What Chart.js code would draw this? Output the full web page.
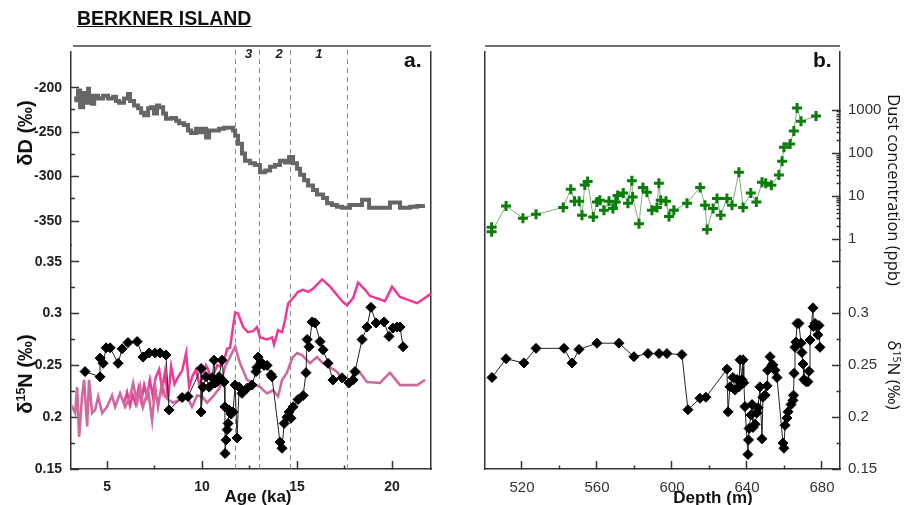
<!DOCTYPE html>
<html>
<head>
<meta charset="utf-8">
<script src="https://cdn.jsdelivr.net/npm/chart.js@4.4.1/dist/chart.umd.min.js"></script>
<style>
  html, body { margin: 0; padding: 0; background: #fff; }
  #wrap { position: relative; width: 909px; height: 505px; overflow: hidden;
          font-family: 'Liberation Sans', Arial, sans-serif; color: #111; }
  canvas { position: absolute; top: 0; }
  #ca { left: 0; }
  #cb { left: 460px; }
  .t { position: absolute; white-space: nowrap; line-height: 1; }
  .c { transform: translate(-50%, -50%); }
  .up { transform: translate(-50%, -50%) rotate(-90deg); }
  .down { transform: translate(-50%, -50%) rotate(90deg); }
  sup { font-size: 62%; vertical-align: 0.55em; line-height: 0; }
</style>
</head>
<body>
<div id="wrap">
  <canvas id="ca" width="460" height="505"></canvas>
  <canvas id="cb" width="449" height="505"></canvas>
  <div class="t" style="left:77px;top:9px;font-weight:bold;font-size:19.5px;text-decoration:underline;">BERKNER ISLAND</div>
  <div class="t" style="left:404px;top:49px;font-weight:bold;font-size:21px;">a.</div>
  <div class="t" style="left:813px;top:49px;font-weight:bold;font-size:21px;">b.</div>
  <div class="t up" style="left:25px;top:133px;font-weight:bold;font-size:20px;">δD (‰)</div>
  <div class="t up" style="left:25px;top:374px;font-weight:bold;font-size:20px;">δ<sup>15</sup>N (‰)</div>
  <div class="t c" style="left:258px;top:496px;font-weight:bold;font-size:17px;">Age (ka)</div>
  <div class="t c" style="left:713px;top:497px;font-weight:bold;font-size:17px;">Depth (m)</div>
  <div class="t down" style="left:894px;top:190px;font-family:'Open Sans';font-size:16.5px;">Dust concentration (ppb)</div>
  <div class="t down" style="left:894px;top:375px;font-family:'Open Sans';font-size:17px;">δ<sup>15</sup>N (‰)</div>
</div>
<script>
// ---- tick values ----
const ageTicks = [5, 7.5, 10, 12.5, 15, 17.5, 20];
const deltaDTicks = [-350, -325, -300, -275, -250, -225, -200];
const n15Ticks = [0.15, 0.175, 0.2, 0.225, 0.25, 0.275, 0.3, 0.325, 0.35];
const depthTicks = [520, 540, 560, 580, 600, 620, 640, 660, 680];
const dustDecades = [1, 10, 100, 1000];

// ---- climate stage boundaries (ka) ----
const stageBoundaries = [11.74, 13.0, 14.63, 17.63];
const stageNames = ['3', '2', '1'];
const stageNameAges = [12.45, 14.05, 16.15];

// ---- deltaD (per mil) vs age (ka) ----
const deltaDAge = [3.28,3.37,3.47,3.58,3.74,3.84,4.00,4.05,4.21,4.32,4.53,4.79,5.05,5.32,5.47,5.63,5.89,6.10,6.21,6.42,6.63,6.79,6.95,7.16,7.32,7.47,7.63,7.74,7.95,8.10,8.37,8.63,8.79,9.05,9.26,9.42,9.68,9.84,10.05,10.21,10.37,10.63,10.89,11.16,11.42,11.63,11.74,11.89,12.10,12.26,12.53,12.79,13.05,13.32,13.58,13.84,14.10,14.37,14.58,14.79,15.00,15.16,15.37,15.58,15.84,16.05,16.37,16.58,16.84,17.10,17.37,17.63,17.79,18.16,18.42,18.68,18.79,19.21,19.53,19.89,20.26,20.42,20.95,21.32,21.63];
const deltaDValue = [-214,-212,-203,-222,-206,-217,-201,-209,-218,-209,-212,-209,-212,-210,-215,-217,-212,-207,-215,-220,-223,-228,-231,-223,-222,-229,-220,-222,-229,-235,-234,-237,-240,-242,-248,-251,-246,-250,-246,-256,-248,-248,-246,-245,-245,-248,-254,-263,-274,-282,-285,-287,-295,-293,-289,-287,-282,-284,-278,-285,-291,-298,-304,-310,-315,-320,-324,-330,-332,-334,-335,-335,-332,-332,-326,-326,-335,-335,-335,-329,-329,-335,-334,-333,-331];

// ---- modelled d15N, upper curve ----
const modelHighAge = [5.90,6.05,6.20,6.35,6.50,6.65,6.80,6.95,7.10,7.25,7.40,7.55,7.74,7.90,8.05,8.21,8.37,8.55,8.74,8.95,9.16,9.32,9.50,9.68,9.85,10.05,10.20,10.32,10.50,10.63,10.80,10.95,11.16,11.32,11.47,11.74,11.89,12.16,12.42,12.68,12.89,13.05,13.42,13.68,13.79,14.00,14.21,14.37,14.53,14.79,15.05,15.32,15.58,15.84,16.32,16.74,17.10,17.42,17.63,17.95,18.21,18.58,18.84,19.63,20.00,20.42,21.32,22.05];
const modelHighValue = [0.214,0.224,0.211,0.221,0.213,0.228,0.215,0.231,0.220,0.236,0.221,0.238,0.246,0.226,0.244,0.217,0.249,0.232,0.239,0.245,0.262,0.229,0.240,0.246,0.232,0.238,0.250,0.246,0.236,0.243,0.250,0.249,0.255,0.266,0.267,0.301,0.300,0.287,0.282,0.283,0.287,0.277,0.275,0.277,0.270,0.284,0.282,0.294,0.310,0.315,0.321,0.323,0.321,0.324,0.333,0.326,0.318,0.311,0.308,0.315,0.330,0.323,0.317,0.312,0.326,0.316,0.310,0.319];

// ---- modelled d15N, lower curve ----
const modelLowAge = [3.11,3.32,3.42,3.53,3.68,3.79,3.95,4.05,4.21,4.37,4.53,4.74,5.00,5.26,5.42,5.68,5.95,6.21,6.37,6.58,6.74,6.89,7.16,7.37,7.53,7.68,7.89,8.05,8.21,8.47,8.84,9.21,9.47,9.74,10.00,10.26,10.58,10.95,11.21,11.47,11.74,12.00,12.37,12.68,13.05,13.42,13.74,14.00,14.21,14.47,14.74,15.00,15.26,15.42,15.68,16.05,16.37,16.74,17.10,17.63,17.95,18.32,18.68,19.37,19.89,20.42,21.32,21.74];
const modelLowValue = [0.212,0.204,0.229,0.181,0.220,0.236,0.191,0.236,0.204,0.207,0.220,0.204,0.210,0.221,0.210,0.223,0.210,0.220,0.233,0.214,0.229,0.210,0.226,0.197,0.229,0.210,0.233,0.220,0.217,0.214,0.217,0.220,0.210,0.221,0.220,0.214,0.220,0.229,0.249,0.258,0.268,0.252,0.236,0.233,0.229,0.223,0.226,0.220,0.236,0.243,0.257,0.262,0.260,0.257,0.252,0.258,0.252,0.248,0.244,0.231,0.241,0.243,0.234,0.233,0.243,0.231,0.231,0.236];

// ---- measured d15N vs age ----
const n15Age = [3.84,4.63,4.63,4.79,4.95,5.16,5.58,5.79,6.10,6.58,6.89,7.21,7.53,7.79,8.10,8.26,8.95,9.26,9.95,9.95,10.05,10.21,10.37,10.53,10.63,10.68,10.79,10.89,11.05,11.16,11.20,11.21,11.26,11.32,11.37,11.42,11.53,11.63,11.74,11.84,11.95,12.10,12.37,12.63,12.84,12.89,12.95,13.10,13.26,13.42,13.63,13.68,14.10,14.21,14.32,14.47,14.58,14.68,14.79,15.05,15.32,15.47,15.53,15.63,15.79,15.95,16.21,16.37,16.63,16.89,17.37,17.74,17.95,18.05,18.42,18.68,18.89,19.16,19.58,19.84,20.05,20.26,20.42,20.58];
const n15Value = [0.244,0.239,0.257,0.252,0.267,0.267,0.252,0.266,0.272,0.273,0.258,0.262,0.262,0.262,0.260,0.207,0.219,0.220,0.247,0.205,0.229,0.239,0.229,0.238,0.255,0.233,0.234,0.239,0.255,0.234,0.210,0.165,0.178,0.188,0.194,0.207,0.203,0.205,0.231,0.180,0.229,0.223,0.228,0.231,0.244,0.248,0.258,0.253,0.250,0.250,0.241,0.239,0.176,0.170,0.194,0.200,0.205,0.199,0.210,0.217,0.221,0.243,0.275,0.268,0.292,0.291,0.273,0.265,0.252,0.236,0.238,0.233,0.236,0.244,0.275,0.287,0.306,0.291,0.292,0.278,0.286,0.287,0.287,0.268];

// ---- dust concentration (ppb) vs depth (m) ----
const dustDepth = [503.8,503.8,511.5,520.5,527.5,542.0,546.0,548.0,550.5,552.0,553.5,555.0,558.0,560.0,561.5,563.7,566.4,568.5,570.0,571.0,574.0,576.5,578.6,579.0,582.4,584.5,586.6,589.3,592.0,593.0,594.0,596.8,598.4,601.0,608.0,615.0,617.6,618.7,621.9,624.0,626.0,629.3,632.0,635.7,637.9,642.0,645.0,648.0,650.0,653.0,657.0,658.7,659.7,663.0,665.0,666.7,668.8,676.8];
const dustPpb = [1.9,1.5,5.9,3.1,3.8,5.5,14.5,7.6,7.6,3.6,18.3,22,3.3,7.3,8.1,4.7,7.6,5.2,7.3,10.4,11.8,6.9,23,9.6,2.3,16,12.4,4.7,5.5,20,8.1,7.6,3.4,4.7,6.9,16,6.2,1.7,5.2,8.9,3.6,8.9,6.2,36,5.5,11.8,7.3,21,20,18,31,65,137,162,325,1120,550,725];

// ---- measured d15N vs depth ----
const n15Depth = [504.0,511.5,521.0,527.5,542.4,546.7,550.4,560.0,571.7,579.7,587.2,593.1,597.3,605.3,608.5,614.9,618.1,629.3,629.9,630.9,632.5,633.6,634.7,635.7,636.3,637.3,637.9,638.3,638.9,640.5,640.8,641.1,642.1,642.7,643.2,644.3,645.3,645.9,646.9,648.0,648.5,649.6,650.7,651.0,652.3,653.3,653.9,654.9,656.0,659.2,659.7,660.3,661.3,661.9,663.5,664.5,664.8,665.1,665.6,666.1,666.7,667.7,668.8,669.3,669.9,670.4,671.5,672.5,673.1,673.6,675.2,675.4,676.3,677.3,677.8,678.4,678.9];
const n15DepthValue = [0.238,0.256,0.252,0.266,0.266,0.252,0.265,0.271,0.271,0.258,0.261,0.261,0.261,0.260,0.207,0.218,0.219,0.246,0.205,0.229,0.238,0.226,0.236,0.229,0.255,0.236,0.255,0.233,0.210,0.164,0.178,0.189,0.202,0.212,0.190,0.193,0.204,0.209,0.229,0.179,0.219,0.221,0.230,0.245,0.258,0.250,0.250,0.245,0.238,0.175,0.170,0.192,0.199,0.205,0.212,0.216,0.221,0.242,0.267,0.272,0.290,0.290,0.271,0.262,0.251,0.236,0.234,0.234,0.244,0.274,0.305,0.287,0.290,0.287,0.279,0.288,0.267];

// ---- helpers ----
const pairs = (xs, ys) => xs.map((x, i) => ({ x, y: ys[i] }));
const fixedTicks = values => scale => { scale.ticks = values.map(v => ({ value: v })); };
const n15Label = v => String(Number(v.toFixed(3)));
const isMajorAge = v => v % 5 === 0;
const isMajorDD = v => v % 50 === 0;
const isMajorN15 = v => Math.round(v * 1000) % 50 === 0;
const isMajorDepth = v => v % 40 === 0;
const isMajorDust = v => dustDecades.includes(v);
const dustTicks = dustDecades.flatMap(d => d === 1000 ? [d] : [d, 2*d, 3*d, 4*d, 5*d, 6*d, 7*d, 8*d, 9*d]);

// short minor tick marks: dash pattern measured from where Chart.js starts the tick line
const minorDash = (isMajor, fromInside) => ctx => {
  const t = ctx.tick;
  if (!t || isMajor(t.value)) return [];
  return fromInside ? [0, 4, 4, 40] : [4, 40];
};

const AXIS = '#333';
const gridFor = (isMajor, fromInside) => ({
  display: true, drawOnChartArea: false, drawTicks: true, tickLength: -8,
  tickColor: AXIS, tickWidth: 1.5, tickBorderDash: minorDash(isMajor, fromInside)
});
const frameGrid = { display: true, drawOnChartArea: false, drawTicks: false };
const boldTick = { size: 14, weight: 'bold', family: 'Liberation Sans' };
const plainTick = { size: 15, weight: 'normal', family: 'Liberation Sans' };

// panel decorations: rule above the panel, stage boundaries and stage numbers
const panelDecor = {
  id: 'panelDecor',
  beforeDatasetsDraw(chart, args, opts) {
    if (!opts.boundaries) return;
    const { ctx, chartArea: a } = chart;
    const xs = chart.scales.x;
    ctx.save();
    ctx.strokeStyle = '#8c8c8c';
    ctx.lineWidth = 1;
    ctx.setLineDash([5, 4]);
    opts.boundaries.forEach(age => {
      const x = Math.round(xs.getPixelForValue(age)) + 0.5;
      ctx.beginPath(); ctx.moveTo(x, a.top - 2); ctx.lineTo(x, a.bottom); ctx.stroke();
    });
    ctx.restore();
  },
  afterDraw(chart, args, opts) {
    const { ctx, chartArea: a } = chart;
    ctx.save();
    ctx.strokeStyle = '#444';
    ctx.lineWidth = 1.5;
    ctx.beginPath();
    ctx.moveTo(a.left + (opts.ruleInset || 0), a.top - 6);
    ctx.lineTo(a.right, a.top - 6);
    ctx.stroke();
    if (opts.names) {
      ctx.fillStyle = '#222';
      ctx.font = 'italic bold 13px "Liberation Sans"';
      ctx.textAlign = 'center';
      ctx.textBaseline = 'middle';
      opts.names.forEach((n, i) => ctx.fillText(n, chart.scales.x.getPixelForValue(opts.nameAges[i]), a.top + 2));
    }
    ctx.restore();
  }
};

Chart.defaults.font.family = 'Liberation Sans';

// ---- panel a: age scale (deltaD stacked above d15N on the left) ----
new Chart(document.getElementById('ca'), {
  type: 'line',
  data: {
    datasets: [
      { data: pairs(n15Age, n15Value), yAxisID: 'yN', borderColor: '#222', borderWidth: 1,
        pointStyle: 'rectRot', pointRadius: 5, pointBackgroundColor: '#000', pointBorderColor: '#000', pointBorderWidth: 1 },
      { data: pairs(modelLowAge, modelLowValue), yAxisID: 'yN', borderColor: '#cf6a9e', borderWidth: 2.6, pointRadius: 0 },
      { data: pairs(modelHighAge, modelHighValue), yAxisID: 'yN', borderColor: '#ee3a96', borderWidth: 2.5, pointRadius: 0 },
      { data: pairs(deltaDAge, deltaDValue), yAxisID: 'yD', borderColor: '#666666', borderWidth: 4, pointRadius: 0, stepped: true }
    ]
  },
  options: {
    responsive: false, animation: false, devicePixelRatio: 1,
    layout: { padding: { top: 52, left: 0, right: 0, bottom: 0 } },
    plugins: {
      legend: { display: false }, tooltip: { enabled: false },
      panelDecor: { boundaries: stageBoundaries, names: stageNames, nameAges: stageNameAges, ruleInset: 2 }
    },
    scales: {
      x: {
        type: 'linear', position: 'bottom', min: 3.1, max: 22.05, weight: 1,
        afterBuildTicks: fixedTicks(ageTicks), afterFit: s => { s.height = 36; },
        border: { display: true, color: AXIS, width: 1.5 },
        grid: gridFor(isMajorAge, false),
        ticks: { autoSkip: false, maxRotation: 0, minRotation: 0, padding: 18, color: '#222', font: boldTick,
                 callback: v => isMajorAge(v) ? String(v) : '' }
      },
      yD: {
        type: 'linear', position: 'left', stack: 'ageLeft', stackWeight: 193, weight: 2,
        min: -376.9, max: -159.8,
        afterBuildTicks: fixedTicks(deltaDTicks), afterFit: s => { s.width = 71; },
        border: { display: true, color: AXIS, width: 1.5 },
        grid: gridFor(isMajorDD, true),
        ticks: { autoSkip: false, padding: 17, color: '#222', font: boldTick,
                 callback: v => isMajorDD(v) ? String(v) : '' }
      },
      yN: {
        type: 'linear', position: 'left', stack: 'ageLeft', stackWeight: 224, weight: 1,
        min: 0.15, max: 0.3662,
        afterBuildTicks: fixedTicks(n15Ticks), afterFit: s => { s.width = 71; },
        border: { display: true, color: AXIS, width: 1.5 },
        grid: gridFor(isMajorN15, true),
        ticks: { autoSkip: false, padding: 17, color: '#222', font: boldTick,
                 callback: v => isMajorN15(v) ? n15Label(v) : '' }
      },
      frameR: {
        type: 'linear', position: 'right', afterFit: s => { s.width = 29; },
        border: { display: true, color: AXIS, width: 1.5 },
        grid: frameGrid, ticks: { display: false }
      }
    }
  },
  plugins: [panelDecor]
});

// ---- panel b: depth scale (dust stacked above d15N on the right) ----
new Chart(document.getElementById('cb'), {
  type: 'line',
  data: {
    datasets: [
      { data: pairs(n15Depth, n15DepthValue), yAxisID: 'yN', borderColor: '#222', borderWidth: 1,
        pointStyle: 'rectRot', pointRadius: 5, pointBackgroundColor: '#000', pointBorderColor: '#000', pointBorderWidth: 1 },
      { data: pairs(dustDepth, dustPpb), yAxisID: 'yDust', borderColor: '#7fae7f', borderWidth: 1,
        pointStyle: 'cross', pointRadius: 5, pointBorderColor: '#0a7d0a', pointBorderWidth: 3 }
    ]
  },
  options: {
    responsive: false, animation: false, devicePixelRatio: 1,
    layout: { padding: { top: 52, left: 0, right: 0, bottom: 0 } },
    plugins: { legend: { display: false }, tooltip: { enabled: false }, panelDecor: {} },
    scales: {
      x: {
        type: 'linear', position: 'bottom', min: 500.27, max: 689.6,
        afterBuildTicks: fixedTicks(depthTicks), afterFit: s => { s.height = 36; },
        border: { display: true, color: AXIS, width: 1.5 },
        grid: gridFor(isMajorDepth, false),
        ticks: { autoSkip: false, maxRotation: 0, minRotation: 0, padding: 18, color: '#333', font: plainTick,
                 callback: v => isMajorDepth(v) ? String(v) : '' }
      },
      frameL: {
        type: 'linear', position: 'left', afterFit: s => { s.width = 25; },
        border: { display: true, color: AXIS, width: 1.5 },
        grid: frameGrid, ticks: { display: false }
      },
      yDust: {
        type: 'logarithmic', position: 'right', stack: 'depthRight', stackWeight: 198, weight: 1,
        min: 0.565, max: 22200,
        afterBuildTicks: fixedTicks(dustTicks), afterFit: s => { s.width = 69; },
        border: { display: true, color: AXIS, width: 1.5 },
        grid: gridFor(isMajorDust, false),
        ticks: { autoSkip: false, padding: 16, color: '#333', font: plainTick,
                 callback: v => isMajorDust(v) ? String(v) : '' }
      },
      yN: {
        type: 'linear', position: 'right', stack: 'depthRight', stackWeight: 219, weight: 2,
        min: 0.15, max: 0.3606,
        afterBuildTicks: fixedTicks(n15Ticks), afterFit: s => { s.width = 69; },
        border: { display: true, color: AXIS, width: 1.5 },
        grid: gridFor(isMajorN15, false),
        ticks: { autoSkip: false, padding: 16, color: '#333', font: plainTick,
                 callback: v => (isMajorN15(v) && v < 0.34) ? n15Label(v) : '' }
      }
    }
  },
  plugins: [panelDecor]
});
</script>
</body>
</html>
